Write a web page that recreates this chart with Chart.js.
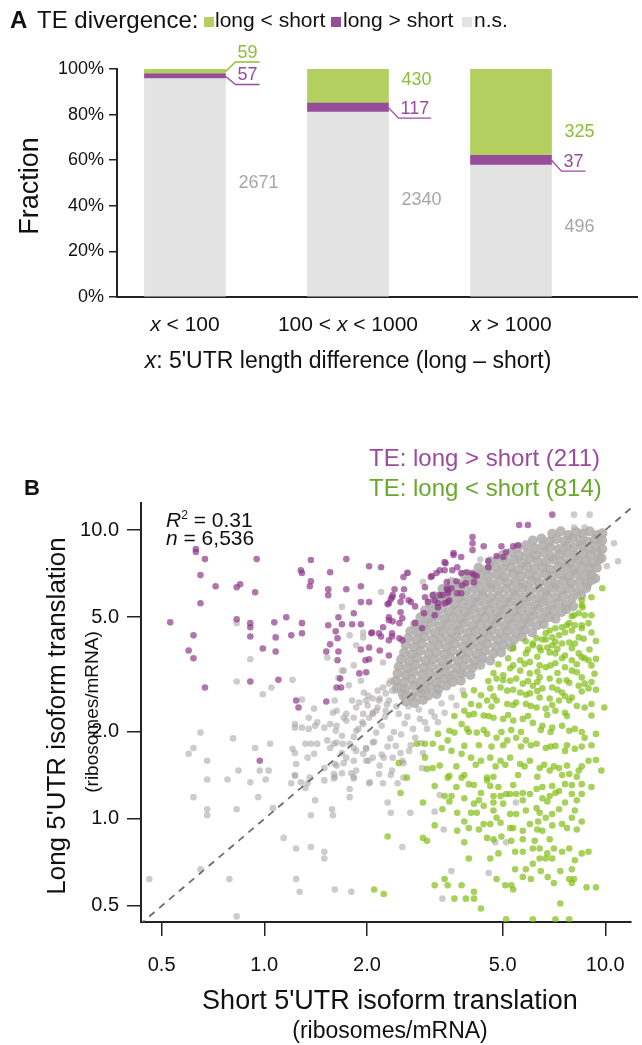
<!DOCTYPE html>
<html><head><meta charset="utf-8">
<script src="https://cdn.jsdelivr.net/npm/chart.js@4.4.1/dist/chart.umd.min.js"></script>
<style>
html,body{margin:0;padding:0;background:#fff;}
body{width:642px;height:1045px;position:relative;overflow:hidden;font-family:"Liberation Sans",Arial,Helvetica,sans-serif;color:#111;}
canvas{position:absolute;left:0;}
#ca{top:0;}
#cb{top:400px;}
.t{position:absolute;white-space:nowrap;}
.sq{position:absolute;width:10px;height:10px;}
.rot{position:absolute;white-space:nowrap;transform:translate(-50%,-50%) rotate(-90deg);}
.ctr{position:absolute;white-space:nowrap;transform:translate(-50%,-50%);}
</style></head><body>
<canvas id="ca" width="642" height="400"></canvas>
<canvas id="cb" width="642" height="645"></canvas>

<div class="t" style="left:10px;top:5px;font-size:24px;line-height:30px;font-weight:bold;">A</div>
<div class="t" style="left:37px;top:5px;font-size:24px;line-height:30px;">TE divergence:</div>
<div class="sq" style="left:204px;top:17px;background:#b2cf60"></div>
<div class="t" style="left:215px;top:6px;font-size:21px;line-height:28px;">long &lt; short</div>
<div class="sq" style="left:331px;top:17px;background:#964e9b"></div>
<div class="t" style="left:343px;top:6px;font-size:21px;line-height:28px;">long &gt; short</div>
<div class="sq" style="left:462px;top:17px;background:#e3e3e3"></div>
<div class="t" style="left:474px;top:6px;font-size:21px;line-height:28px;">n.s.</div>
<div class="rot" style="left:29px;top:186px;font-size:27px;">Fraction</div>

<div class="t" style="left:24px;top:475px;font-size:22px;line-height:26px;font-weight:bold;">B</div>
<div class="t" style="left:369px;top:444px;font-size:24px;line-height:28px;color:#9a4b9f;">TE: long &gt; short (211)</div>
<div class="t" style="left:369px;top:474px;font-size:24px;line-height:28px;color:#6aa82c;">TE: long &lt; short (814)</div>
<div class="t" style="left:166px;top:503px;font-size:21px;line-height:24px;"><i>R</i><sup style="font-size:12px;">2</sup> = 0.31</div>
<div class="t" style="left:166px;top:526px;font-size:21px;line-height:24px;"><i>n</i> = 6,536</div>
<div class="ctr" style="left:390px;top:1000px;font-size:27px;">Short 5'UTR isoform translation</div>
<div class="ctr" style="left:390px;top:1030px;font-size:23px;">(ribosomes/mRNA)</div>
<div class="rot" style="left:56px;top:716px;font-size:26px;">Long 5'UTR isoform translation</div>
<div class="rot" style="left:92px;top:712px;font-size:19px;">(ribosomes/mRNA)</div>

<script>
// ---------- Panel A data ----------
const categories = ['x < 100', '100 < x < 1000', 'x > 1000'];
const nsCounts   = [2671, 2340, 496];   // n.s.
const upCounts   = [57, 117, 37];       // long > short (purple)
const downCounts = [59, 430, 325];      // long < short (green)
const yTicksA    = [0, 20, 40, 60, 80, 100];
const xTitleA    = "x: 5'UTR length difference (long \u2013 short)";

// ---------- Panel B data ----------
const xTicksB = [0.5, 1, 2, 5, 10];
const yTicksB = [0.5, 1, 2, 5, 10];
const diagLine = [0.43, 12.5];

const purplePts = [
[0.63,8.59],[0.63,8.39],[0.67,7.93],[0.95,7.93],[1.37,7.87],[1.74,7.93],[2.03,7.49],[2.2,7.43],[0.65,6.98],[1.28,7.26],[1.29,7.1],[1.56,7.14],[1.37,6.65],[1.36,6.39],[0.72,6.39],[0.83,6.34],[0.85,6.49],[0.94,6.09],[1.54,6.24],[1.54,5.95],[1.74,6.24],[1.92,6.39],[0.65,5.58],[1.92,5.63],[2.03,5.63],[2.3,5.53],[2.37,5.85],
[0.53,4.79],[0.62,4.32],[0.6,3.83],[0.62,3.6],[0.67,2.85],[0.83,4.91],[0.91,4.76],[0.91,4.61],[0.91,4.28],[0.99,3.89],[1.08,3.8],[1.08,4.25],[1.07,4.79],[1.16,4.99],[1.2,4.32],[1.29,4.76],[1.29,4.39],[0.91,2.99],[1.1,3.03],[1.24,2.57],[1.26,2.43],[1.52,2.55],[1.54,4.68],[1.62,4.46],[1.64,4.22],[1.56,4.02],[1.65,3.8],[1.64,3.54],[1.67,3.06],[1.63,2.85],[1.68,2.85],[1.81,4.72],[1.83,5.15],[1.69,4.72],[1.65,4.99],[1.52,3.8],[1.92,3.86],[1.98,3.54],[1.99,3.22],[1.9,3.19],[2.06,4.39],[2.03,3.92],[0.97,1.59],
[2.56,6.87],[2.63,7.1],[2.57,6.24],[2.41,6.24],[2.38,5.95],[2.32,5.58],[2.51,5.63],[2.69,5.63],[2.77,5.44],[1.92,4.72],[2.07,4.42],[2.17,4.39],[2.2,4.28],[2.18,3.83],[2.32,4.15],[2.37,4.28],[2.49,4.22],[2.54,4.15],[2.38,4.83],[2.49,4.76],[2.32,4.99],[2.51,5.19],[2.9,4.57],[2.94,5.15],[3.02,5.63],[3.12,5.95],[3.1,6.93],[3.2,7.1],[3.38,7.26],[3.4,7.67],[3.68,7.43],[3.78,7.1],[4.07,7.1],[4.2,6.93],[3.33,5.95],[3.45,6.04],[3.54,6.29],[3.68,6.04],[3.8,6.44],[3.9,6.55],[3.23,5.58],[3.45,5.63],[3.43,6.29],[2.32,3.68],[2.03,3.57],
[6.99,11.3],[5.59,10.4],[5.93,10.4],[4.08,9.45],[4.08,8.99],[4.08,8.52],[4.4,8.79],[4.96,8.79],[5.37,8.79],[5.55,8.86],[5.12,8.39],[5.02,8.06],[4.8,8.13],[3.59,8.32],[3.59,8.19],[3.78,8.06],[3.38,7.74],[3.08,6.87],[3.27,7.26],[3.56,7.26],[3.93,7.14],[4.12,6.98],[4.54,7.81],[4.54,7.43],[3.43,6.6],[3.66,6.65],[3.45,6.19],[3.27,5.95],[3.78,6.04],[3.49,5.71],[3.38,5.58],[3.16,5.71],[3.23,5.4],[2.96,6.34],[2.96,5.85],[2.65,5.71],[2.54,5.9],[2.35,5.76],[2.32,4.87],[2.54,4.95],[2.77,4.76],[2.23,4.61],[2.37,4.39],[3.16,5.07],[4.12,6.6]
];

const greenPts = [
[9.8,6.29],[9.11,5.85],[8.53,5.71],[8.58,5.4],[8.09,5.07],[8.36,5.15],[8.7,5.07],[9.11,5.07],[7.84,4.76],[8.14,4.68],[7.47,4.61],[7.14,4.57],[6.87,4.49],[6.69,4.39],[6.99,4.25],[7.32,4.32],[7.62,4.42],[7.98,4.49],[8.53,4.57],[8.93,4.76],[8.36,4.25],[7.84,4.08],[6.29,4.22],[6.13,4.05],[6.42,3.92],[6.99,3.99],[7.47,4.05],[8.14,4.05],
[8.53,5.49],[7.98,5.03],[7.72,4.68],[8.53,4.68],[9.11,4.42],[6.69,4.18],[6.13,3.99],[6.47,3.83],[6.87,3.77],[7.14,3.74],[7.62,3.68],[8.36,3.74],[8.7,3.6],[8.93,3.54],[7.98,3.54],[5.85,3.74],[5.63,3.54],[6.01,3.49],[6.42,3.4],[6.69,3.35],[7.14,3.46],[7.62,3.35],[7.98,3.26],[8.53,3.09],[8.7,2.94],[8.36,2.89],[7.84,2.96],[7.32,3.01],[6.87,3.06],[6.42,3.09],[6.01,3.19],[5.63,3.26],[5.26,3.32],[5.02,3.14],[4.8,3.06],[5.26,3.01],[5.48,3.06],[5.73,2.94],[6.13,2.89],[6.54,2.83],[6.99,2.85],[7.47,2.74],[7.98,2.63],[7.84,2.57],[7.32,2.57],[6.87,2.61],[6.42,2.63],[6.01,2.72],[5.63,2.74],[5.16,2.78],[4.93,2.85],[4.6,2.83],[4.32,2.68],[4.5,2.57],[4.8,2.57],[5.16,2.5],[5.48,2.53],[5.85,2.5],[6.29,2.43],[6.69,2.41],[7.14,2.37],[7.62,2.33],[8.7,2.43],[9.93,2.43],[8.93,2.83],
[4.04,2.5],[3.86,2.37],[4.12,2.31],[4.4,2.28],[4.7,2.24],[5.02,2.22],[5.37,2.19],[5.73,2.22],[6.13,2.15],[6.54,2.1],[6.99,2.07],[7.47,2.1],[8.14,2.05],[8.7,1.91],[9.39,1.97],[3.79,2.13],[3.93,2.05],[4.2,1.99],[4.5,1.97],[4.8,1.91],[5.16,1.87],[5.48,1.91],[5.85,1.87],[6.29,1.82],[6.69,1.76],[7.14,1.79],[7.62,1.72],[8.14,1.75],[3.61,1.99],[3.45,1.87],[3.31,1.76],[3.54,1.72],[3.79,1.68],[4.04,1.63],[4.32,1.59],[4.6,1.63],[4.93,1.59],[5.26,1.63],[5.63,1.55],[6.01,1.59],[6.42,1.5],[6.87,1.47],[7.32,1.5],[7.84,1.43],[8.36,1.47],[8.93,1.59],[2.96,1.82],[3.12,1.82],[2.8,1.82],[2.96,1.63],[2.48,1.56],[3.0,1.49],[3.12,1.5],[2.62,1.39],[3.45,1.39],[3.79,1.39],[4.5,1.39],[3.23,1.97],
[2.51,1.23],[2.92,1.14],[2.3,0.87],[2.92,0.86],[3.0,0.84],[3.16,0.95],[3.33,1.08],[3.38,1.2],[3.54,1.2],[3.68,1.05],[3.68,0.91],[3.86,0.83],[3.98,0.73],[3.86,0.98],[4.04,1.05],[4.12,1.13],[3.98,1.32],[3.86,1.18],[4.32,1.23],[4.5,1.36],[4.6,1.3],[4.7,1.2],[4.4,1.11],[4.2,1.05],[4.4,0.96],[4.6,0.96],[4.7,1.07],[4.8,1.01],[4.93,1.2],[5.12,1.22],[5.26,1.22],[5.48,1.22],[5.73,1.23],[6.01,1.22],[6.29,1.27],[6.54,1.18],[6.87,1.2],[7.14,1.23],[7.32,1.25],[7.98,1.22],[8.53,1.22],[8.53,1.32],[7.62,1.32],[6.99,1.3],[5.02,1.13],[5.26,1.04],[5.48,1.04],[5.85,1.07],[6.29,1.09],[6.42,1.05],[6.69,1.01],[6.99,1.04],[7.32,1.08],[7.62,1.14],[8.14,1.07],[4.93,0.97],[5.26,0.93],[5.73,0.91],[6.01,0.96],[6.36,0.98],[6.54,0.91],[6.99,0.95],[7.47,0.96],[7.98,1.01],[8.53,0.98],[4.5,0.86],[4.7,0.85],[4.96,0.87],[5.3,0.84],[5.73,0.85],[6.21,0.84],[6.42,0.79],[6.87,0.85],[7.07,0.79],[7.84,0.79],[8.14,0.72],[8.93,0.77],[5.44,0.77],[6.13,0.79],[4.6,0.73],[6.42,0.73],[6.69,0.73],[6.99,0.73],[6.13,0.7],[5.85,0.67],[5.44,0.67],[6.47,0.66],[6.78,0.63],[5.73,0.63],[6.05,0.62],[7.38,0.66],[7.84,0.62],[8.09,0.62],[7.98,0.67],[7.07,0.6],[7.98,0.6],[4.8,0.62],[5.3,0.59],[5.09,0.59],[5.37,0.57],[3.38,0.62],[3.45,0.59],[3.16,0.59],[3.79,0.59],[2.1,0.57],[2.24,0.55],[3.61,0.53],[3.9,0.53],[4.12,0.53],[4.12,0.56],[4.32,0.49],[8.81,0.58],[9.39,0.58],[7.38,0.51],[5.12,0.45],[6.13,0.45],[7.14,0.45],[7.84,0.45],
[5.85,4.12],[6.54,4.18],[7.14,4.1],[8.64,4.2],[9.39,4.13],[5.37,3.9],[5.93,3.86],[6.76,3.92],[7.24,3.88],[7.98,3.9],[8.99,3.86],[5.19,3.6],[6.32,3.64],[7.47,3.6],[8.53,3.63],[9.39,3.58],
[4.86,3.43],[5.37,3.4],[5.8,3.44],[6.91,3.4],[8.25,3.43],[9.11,3.4],[4.7,3.2],[6.32,3.23],[7.24,3.2],[8.25,3.22],[9.3,3.18],[4.54,3.0],[5.02,3.02],[5.93,3.0],[6.32,2.98],[7.7,3.02],[9.11,2.98],
[4.12,2.79],[5.37,2.8],[6.32,2.77],[7.24,2.8],[8.53,2.76],[9.39,2.8],[3.86,2.68],[4.7,2.66],[5.85,2.69],[7.62,2.66],
[4.26,2.47],[4.64,2.45],[5.37,2.48],[6.05,2.46],[6.99,2.48],[8.25,2.46],[9.11,2.5],[3.61,2.27],[3.98,2.29],[4.54,2.27],[5.19,2.29],[5.93,2.27],[6.76,2.29],[7.72,2.27],[9.11,2.28],
[3.49,2.02],[3.98,2.0],[4.4,2.03],[4.96,2.0],[5.3,2.03],[5.66,2.0],[6.47,2.03],[6.91,2.0],[7.84,2.02],[8.53,2.0],
[3.86,1.79],[4.26,1.8],[4.64,1.78],[5.02,1.8],[5.66,1.78],[6.05,1.8],[6.91,1.78],[7.72,1.8],[8.53,1.78],[9.11,1.8],
[3.27,1.53],[3.66,1.52],[4.17,1.54],[4.77,1.52],[5.09,1.54],[5.8,1.52],[6.62,1.54],[7.07,1.52],[7.72,1.53],[8.53,1.52],
[3.16,1.3],[3.66,1.29],[4.12,1.31],[4.86,1.29],[5.37,1.31],[6.54,1.29],[7.98,1.31],[9.11,1.29],
[3.49,1.41],[3.86,1.42],[4.7,1.4],[5.55,1.42],[6.32,1.4],[7.47,1.42],[8.25,1.4],
[3.49,1.15],[4.26,1.16],[4.7,1.14],[5.73,1.16],[6.76,1.15],[8.25,1.16],
[3.98,0.93],[4.26,0.92],[5.37,0.93],[6.32,0.92],[7.72,0.93],[8.25,0.92],
[4.86,0.76],[5.73,0.77],[6.76,0.76],[7.47,0.77],[8.53,0.76],[9.39,1.6],[9.74,1.47]
];

const grayCorePts = [
[6.99,9.7],[7.4,9.9],[7.8,9.6],[8.2,9.85],[8.6,9.7],[9.0,9.9],[9.45,9.6],[9.8,9.75],
[6.13,9.2],[6.5,9.35],[6.85,9.1],[7.2,9.3],[7.6,9.15],[8.0,9.35],[8.45,9.2],[8.9,9.1],[9.35,9.3],[9.8,9.2],
[5.55,8.7],[5.85,8.85],[6.2,8.65],[6.55,8.8],[6.9,8.7],[7.3,8.6],[7.7,8.8],[8.1,8.7],[8.5,8.85],[8.95,8.65],[9.4,8.75],[9.8,8.6],
[5.02,8.2],[5.3,8.35],[5.6,8.15],[5.9,8.3],[6.25,8.2],[6.6,8.35],[6.95,8.1],[7.35,8.25],[7.75,8.3],[8.15,8.15],[8.6,8.3],[9.05,8.2],[9.5,8.3],[9.75,8.0],
[4.6,7.8],[4.85,7.9],[5.12,7.75],[5.4,7.85],[5.7,7.7],[6.0,7.9],[6.35,7.8],[6.7,7.75],[7.05,7.9],[7.45,7.8],[7.85,7.7],[8.3,7.85],[8.75,7.8],[9.2,7.7],[9.6,7.9],
[4.25,7.4],[4.5,7.3],[4.75,7.45],[5.0,7.35],[5.28,7.4],[5.58,7.3],[5.9,7.45],[6.2,7.35],[6.55,7.4],[6.9,7.3],[7.3,7.45],[7.7,7.4],[8.1,7.3],[8.55,7.45],[9.0,7.35],[9.45,7.4],
[3.86,7.0],[4.08,6.9],[4.3,7.05],[4.55,6.95],[4.8,7.0],[5.05,6.9],[5.35,7.05],[5.65,6.95],[5.95,7.0],[6.3,6.9],[6.65,7.05],[7.0,6.95],[7.4,7.0],[7.8,6.9],[8.2,7.05],[8.65,6.95],[9.1,7.0],[9.35,6.8],
[3.55,6.6],[3.75,6.5],[3.95,6.65],[4.18,6.55],[4.4,6.6],[4.65,6.5],[4.9,6.65],[5.18,6.55],[5.45,6.6],[5.75,6.5],[6.08,6.65],[6.4,6.55],[6.75,6.6],[7.15,6.5],[7.55,6.65],[7.95,6.55],[8.4,6.6],[8.85,6.5],[9.1,6.7],
[3.33,6.25],[3.5,6.15],[3.7,6.3],[3.9,6.2],[4.12,6.25],[4.35,6.15],[4.6,6.3],[4.85,6.2],[5.12,6.25],[5.4,6.15],[5.7,6.3],[6.0,6.2],[6.35,6.25],[6.7,6.15],[7.05,6.3],[7.45,6.2],[7.85,6.25],[8.3,6.15],[8.8,6.3],
[3.16,5.9],[3.33,5.82],[3.52,5.95],[3.72,5.85],[3.93,5.9],[4.15,5.82],[4.38,5.95],[4.62,5.85],[4.88,5.9],[5.15,5.82],[5.45,5.95],[5.75,5.85],[6.05,5.9],[6.4,5.82],[6.75,5.95],[7.15,5.85],[7.55,5.9],[8.0,5.82],[8.5,5.95],
[3.06,5.58],[3.22,5.5],[3.4,5.63],[3.6,5.53],[3.8,5.58],[4.0,5.5],[4.22,5.63],[4.45,5.53],[4.7,5.58],[4.95,5.5],[5.25,5.63],[5.55,5.53],[5.85,5.58],[6.2,5.5],[6.55,5.63],[6.9,5.53],[7.3,5.58],[7.7,5.5],[8.05,5.45],
[2.96,5.27],[3.12,5.2],[3.3,5.32],[3.48,5.22],[3.68,5.27],[3.88,5.2],[4.1,5.32],[4.32,5.22],[4.57,5.27],[4.82,5.2],[5.1,5.32],[5.38,5.22],[5.68,5.27],[6.0,5.2],[6.35,5.32],[6.7,5.22],[7.05,5.27],[7.45,5.2],[7.7,5.32],
[2.87,4.99],[3.03,4.93],[3.2,5.04],[3.38,4.94],[3.57,4.99],[3.77,4.93],[3.98,5.04],[4.2,4.94],[4.43,4.99],[4.68,4.93],[4.95,5.04],[5.22,4.94],[5.52,4.99],[5.83,4.93],[6.15,5.04],[6.5,4.94],[6.85,4.99],[7.15,4.93],
[2.77,4.72],[2.93,4.66],[3.1,4.77],[3.27,4.67],[3.45,4.72],[3.65,4.66],[3.85,4.77],[4.07,4.67],[4.3,4.72],[4.54,4.66],[4.8,4.77],[5.07,4.67],[5.35,4.72],[5.65,4.66],[5.97,4.77],[6.3,4.67],[6.6,4.72],
[2.68,4.46],[2.83,4.41],[2.99,4.51],[3.16,4.42],[3.34,4.46],[3.53,4.41],[3.73,4.51],[3.94,4.42],[4.16,4.46],[4.39,4.41],[4.64,4.51],[4.9,4.42],[5.18,4.46],[5.47,4.41],[5.78,4.51],[6.1,4.42],
[2.64,4.22],[2.79,4.17],[2.95,4.27],[3.12,4.18],[3.3,4.22],[3.48,4.17],[3.68,4.27],[3.89,4.18],[4.1,4.22],[4.33,4.17],[4.58,4.27],[4.84,4.18],[5.11,4.22],[5.4,4.17],[5.7,4.27],
[2.6,3.99],[2.75,3.94],[2.9,4.04],[3.07,3.95],[3.24,3.99],[3.42,3.94],[3.62,4.04],[3.82,3.95],[4.04,3.99],[4.26,3.94],[4.5,4.04],[4.76,3.95],[5.03,3.99],[5.3,3.94],
[2.57,3.77],[2.71,3.72],[2.87,3.82],[3.03,3.73],[3.2,3.77],[3.38,3.72],[3.57,3.82],[3.77,3.73],[3.98,3.77],[4.2,3.72],[4.44,3.82],[4.69,3.73],[4.95,3.77],
[2.52,3.57],[2.66,3.52],[2.81,3.61],[2.97,3.53],[3.14,3.57],[3.32,3.52],[3.51,3.61],[3.7,3.53],[3.91,3.57],[4.13,3.52],[4.36,3.61],[4.6,3.53],
[2.48,3.37],[2.62,3.33],[2.77,3.41],[2.93,3.34],[3.09,3.37],[3.27,3.33],[3.45,3.41],[3.65,3.34],[3.85,3.37],[4.07,3.33],[4.3,3.41],
[2.46,3.19],[2.6,3.15],[2.74,3.23],[2.9,3.16],[3.06,3.19],[3.23,3.15],[3.41,3.23],[3.6,3.16],[3.8,3.19],[4.02,3.15],
[2.43,3.01],[2.57,2.97],[2.71,3.05],[2.87,2.98],[3.03,3.01],[3.2,2.97],[3.38,3.05],[3.57,2.98],[3.77,3.01],
[2.45,2.85],[2.59,2.81],[2.74,2.89],[2.9,2.82],[3.06,2.85],[3.24,2.81],[3.42,2.89],
[2.55,2.7],[2.7,2.66],[2.86,2.74],[3.02,2.67],[3.2,2.7],
[2.6,2.55],[2.76,2.52],[2.92,2.58]
];

const graySparsePts = [
[0.68,1.37],[0.78,1.37],[0.91,1.34],[1.01,1.37],[0.84,1.47],[0.97,1.47],[0.62,1.19],[0.68,1.08],[0.68,1.03],[0.83,1.08],[0.96,1.19],[1.06,1.09],[1.2,1.33],[1.23,1.42],[1.28,1.34],[1.32,1.28],[1.34,1.33],[1.41,1.16],[1.5,1.36],[1.6,1.38],[1.61,1.4],[1.69,1.44],[1.83,1.4],[1.83,1.38],[1.78,1.27],[1.78,1.19],[2.04,1.34],[1.37,1.03],[1.58,1.08],[1.59,1.03],[1.14,0.86],[1.24,0.79],[1.37,0.8],[1.5,0.77],[1.5,0.73],[0.65,0.67],[0.46,0.62],[0.79,0.62],[1.24,0.62],[1.27,0.56],[1.61,0.57],[1.8,0.56],[0.83,0.46],
[0.83,4.76],[0.91,3.57],[0.83,2.99],[0.99,2.7],[1.05,2.85],[1.21,3.03],[1.29,2.59],[1.4,2.41],[1.35,2.24],[1.23,2.13],[1.23,2.07],[1.29,2.07],[1.35,2.05],[1.43,2.16],[1.5,2.07],[1.56,2.13],[1.63,2.1],[1.62,2.02],[1.71,2.24],[1.83,2.24],[1.95,2.31],[1.99,2.57],[2.08,2.61],[2.01,2.47],[0.65,1.99],[0.81,1.9],[0.62,1.76],[0.6,1.68],[0.68,1.59],[0.94,1.76],[1.04,1.82],[1.23,1.69],[1.37,1.82],[1.43,1.82],[1.34,1.63],[1.6,1.82],[1.7,1.82],[1.83,1.76],[1.95,1.68],[2.08,1.63],[1.83,1.59],[1.71,1.56],[1.6,1.43],[1.23,1.41],
[1.65,3.08],[1.71,3.26],[1.83,3.4],[1.95,4.25],[1.95,4.42],[1.78,4.32],[1.53,3.62],[1.69,5.42],
[1.61,2.57],[1.63,2.37],[1.74,2.31],[1.86,2.43],[1.9,2.53],[2.17,2.57],[2.15,2.43],[2.08,2.31],[2.03,2.24],[1.95,2.13],[1.86,2.02],[1.83,1.92],[1.78,1.82],[1.63,1.84],[1.56,1.76],[1.69,1.69],[1.86,1.72],[1.99,1.76],[2.08,1.84],
[2.13,2.37],[2.29,2.49],[2.48,2.31],[2.65,2.45],[2.86,2.22],[3.09,2.35],[3.31,2.51],[3.54,2.63],[3.82,2.78],[2.21,2.1],[2.4,2.0],[2.58,2.14],[2.77,1.91],[3.0,2.05],[3.23,2.16],[2.1,1.85],[2.3,1.78],[2.51,1.69],[2.69,1.8],[2.92,1.69],[1.74,2.19],[1.89,2.05],[1.81,2.57],[1.96,2.74],[1.69,1.94],[2.02,1.59],[2.18,1.53],[2.37,1.47],[2.56,1.56],[1.86,1.47],[1.63,1.53],[1.53,1.87],[1.41,2.1],[1.59,2.33],[1.77,2.9],[1.69,3.26],[1.92,3.01],[2.15,2.78],[2.35,3.01],[2.56,2.78],[2.77,2.63],[3.0,2.78],[3.25,2.9],[3.51,3.09],[3.82,3.22],[4.09,3.4],[4.4,3.54],
[2.02,2.67],[2.18,2.61],[2.37,2.78],[2.54,2.63],[2.73,2.72],[2.08,2.33],[2.26,2.26],[2.44,2.45],[2.63,2.26],[2.84,2.39],[1.94,2.16],[2.13,1.99],[2.34,1.9],[2.52,1.96],[2.73,2.05],[2.96,2.16],[3.16,2.26],[1.99,1.75],[2.21,1.67],[2.43,1.79],[2.66,1.72],[2.88,1.83],[3.38,2.33],[3.66,2.47],
[2.27,2.37],[2.32,2.57],[2.27,2.72],[2.23,2.85],[2.32,2.94],[2.43,2.78],[2.63,7.13],[2.2,6.1],[1.86,3.99],[2.23,3.48],
[2.24,1.63],[2.38,1.63],[2.54,1.59],[2.9,1.5],[1.99,1.59],[1.74,1.63],[1.61,1.55],[1.4,1.68],[1.32,1.82],[1.21,1.75],[1.24,1.55],[1.03,1.47],[1.5,1.5],[1.8,1.44],[2.17,1.43],[1.36,1.39],
[2.03,1.33],[2.23,1.33],[2.35,1.42],[2.46,1.33],[2.56,1.39],[2.3,1.14],[2.35,1.05],[2.68,1.05],[3.16,1.06],[3.27,1.21],[3.36,0.92],[2.54,0.8],[4.76,0.83],[5.12,0.83],[3.54,0.66],[4.55,0.65],[3.33,0.53],[5.47,1.14],
[8.1,11.3],[9.0,11.3],[8.1,10.2],[8.7,10.2],[10.6,9.0],[10.9,7.8],[10.1,7.5],[9.6,9.2],[2.92,6.6],[4.3,7.9],[5.1,8.05]
];

// ---------- common ----------
const FONT = '"Liberation Sans", Arial, Helvetica, sans-serif';
Chart.defaults.font.family = FONT;
Chart.defaults.color = '#111';
Chart.defaults.animation = false;
Chart.defaults.plugins.legend.display = false;
Chart.defaults.plugins.tooltip.enabled = false;

const GREEN = '#b2cf60', PURPLE = '#964e9b', GRAY = '#e3e3e3';
const GREEN_T = '#8dbd36', PURPLE_T = '#9a4b9f', GRAY_T = '#a6a6a6';

function drawMixed(ctx, text, cx, cy, size) {
  const parts = text.split(/(\bx\b)/).filter(s => s.length);
  const fonts = parts.map(p => (p === 'x' ? 'italic ' : '') + size + 'px ' + FONT);
  let w = 0;
  parts.forEach((p, i) => { ctx.font = fonts[i]; w += ctx.measureText(p).width; });
  let x = cx - w / 2;
  ctx.textAlign = 'left'; ctx.textBaseline = 'middle';
  parts.forEach((p, i) => { ctx.font = fonts[i]; ctx.fillText(p, x, cy); x += ctx.measureText(p).width; });
}

const totals = nsCounts.map((n, i) => n + upCounts[i] + downCounts[i]);
const toPct = arr => arr.map((v, i) => ({ x: i, y: v / totals[i] * 100 }));

const greenLabelPct = [null, 95, 72.5];

const annA = {
  id: 'annA',
  afterDatasetsDraw(chart) {
    const ctx = chart.ctx, xs = chart.scales.x, ys = chart.scales.y;
    ctx.save();
    ctx.fillStyle = '#111';
    categories.forEach((c, i) => drawMixed(ctx, c, xs.getPixelForValue(i), 325, 21));
    drawMixed(ctx, xTitleA, xs.getPixelForValue(1), 362, 23);

    const mN = chart.getDatasetMeta(0), mU = chart.getDatasetMeta(1), mD = chart.getDatasetMeta(2);
    ctx.font = '18px ' + FONT;
    ctx.textBaseline = 'middle';
    ctx.lineWidth = 1.3;
    for (let i = 0; i < categories.length; i++) {
      const eN = mN.data[i], eU = mU.data[i], eD = mD.data[i];
      const right = eN.x + eN.width / 2;
      ctx.fillStyle = GRAY_T; ctx.textAlign = 'left';
      ctx.fillText(String(nsCounts[i]), right + 13, (eN.y + eN.base) / 2 - 4);
      const pm = (eU.y + eU.base) / 2;
      const pw = ctx.measureText(String(upCounts[i])).width;
      const py = eU.base + 6;
      ctx.strokeStyle = PURPLE_T; ctx.fillStyle = PURPLE_T;
      ctx.beginPath(); ctx.moveTo(right, pm); ctx.lineTo(right + 10, py); ctx.lineTo(right + 14 + pw, py); ctx.stroke();
      ctx.textAlign = 'center';
      ctx.fillText(String(upCounts[i]), right + 12 + pw / 2, py - 9);
      ctx.fillStyle = GREEN_T; ctx.strokeStyle = GREEN_T;
      if (greenLabelPct[i] === null) {
        const gm = (eD.y + eD.base) / 2;
        const gw = ctx.measureText(String(downCounts[i])).width;
        const gy = eD.y - 7;
        ctx.beginPath(); ctx.moveTo(right, gm); ctx.lineTo(right + 10, gy); ctx.lineTo(right + 14 + gw, gy); ctx.stroke();
        ctx.textAlign = 'center';
        ctx.fillText(String(downCounts[i]), right + 12 + gw / 2, gy - 9);
      } else {
        ctx.textAlign = 'left';
        ctx.fillText(String(downCounts[i]), right + 13, ys.getPixelForValue(greenLabelPct[i]));
      }
    }
    ctx.restore();
  }
};

new Chart(document.getElementById('ca'), {
  type: 'bar',
  data: { datasets: [
    { label: 'n.s.', data: toPct(nsCounts), backgroundColor: GRAY },
    { label: 'long > short', data: toPct(upCounts), backgroundColor: PURPLE },
    { label: 'long < short', data: toPct(downCounts), backgroundColor: GREEN }
  ]},
  options: {
    responsive: false, animation: false,
    layout: { padding: { left: 0, right: 5, top: 69, bottom: 0 } },
    datasets: { bar: { barThickness: 81, borderWidth: 0 } },
    scales: {
      x: { type: 'linear', stacked: true, min: -0.417, max: 2.773, offset: false,
           ticks: { display: false }, grid: { display: false },
           border: { display: true, color: '#222', width: 2 },
           afterFit(s) { s.height = 103; } },
      y: { stacked: true, min: 0, max: 100,
           afterBuildTicks(s) { s.ticks = yTicksA.map(v => ({ value: v })); },
           ticks: { callback: v => v + '%', font: { size: 18 }, color: '#111', padding: 5 },
           grid: { drawOnChartArea: false, tickLength: 8, color: '#222', lineWidth: 1.5 },
           border: { display: true, color: '#222', width: 2 },
           afterFit(s) { s.width = 117; } }
    }
  },
  plugins: [annA]
});

const toXY = arr => arr.map(p => ({ x: p[0], y: p[1] }));
const PR = 3.3;

new Chart(document.getElementById('cb'), {
  type: 'scatter',
  data: { datasets: [
    { type: 'line', data: diagLine.map(v => ({ x: v, y: v })), borderColor: '#6e6e6e', borderWidth: 1.8,
      borderDash: [7, 6], pointRadius: 0, fill: false, order: 0 },
    { label: 'long > short', data: toXY(purplePts), backgroundColor: 'rgba(140,52,135,0.68)', pointRadius: PR, pointBorderWidth: 0, order: 1 },
    { label: 'long < short', data: toXY(greenPts), backgroundColor: 'rgba(130,190,20,0.70)', pointRadius: PR, pointBorderWidth: 0, order: 1 },
    { label: 'n.s. core', data: toXY(grayCorePts), backgroundColor: 'rgba(176,173,173,0.88)', pointRadius: 5, pointBorderWidth: 0, order: 2 },
    { label: 'n.s.', data: toXY(graySparsePts), backgroundColor: 'rgba(168,165,165,0.58)', pointRadius: PR, pointBorderWidth: 0, order: 2 }
  ]},
  options: {
    responsive: false, animation: false,
    layout: { padding: { left: 0, right: 2, top: 103, bottom: 0 } },
    scales: {
      x: { type: 'logarithmic', min: 0.435, max: 11.9,
           afterBuildTicks(s) { s.ticks = xTicksB.map(v => ({ value: v })); },
           ticks: { callback: v => Number(v).toFixed(1), font: { size: 20 }, color: '#111', padding: 17, maxRotation: 0, autoSkip: false },
           grid: { drawOnChartArea: false, tickLength: 14, color: '#222', lineWidth: 1.5 },
           border: { display: true, color: '#222', width: 2 },
           afterFit(s) { s.height = 123; } },
      y: { type: 'logarithmic', min: 0.44, max: 12.4,
           afterBuildTicks(s) { s.ticks = yTicksB.map(v => ({ value: v })); },
           ticks: { callback: v => Number(v).toFixed(1), font: { size: 20 }, color: '#111', padding: 8, autoSkip: false },
           grid: { drawOnChartArea: false, tickLength: 14, color: '#222', lineWidth: 1.5 },
           border: { display: true, color: '#222', width: 2 },
           afterFit(s) { s.width = 141; } }
    }
  }
});
</script>
</body></html>
